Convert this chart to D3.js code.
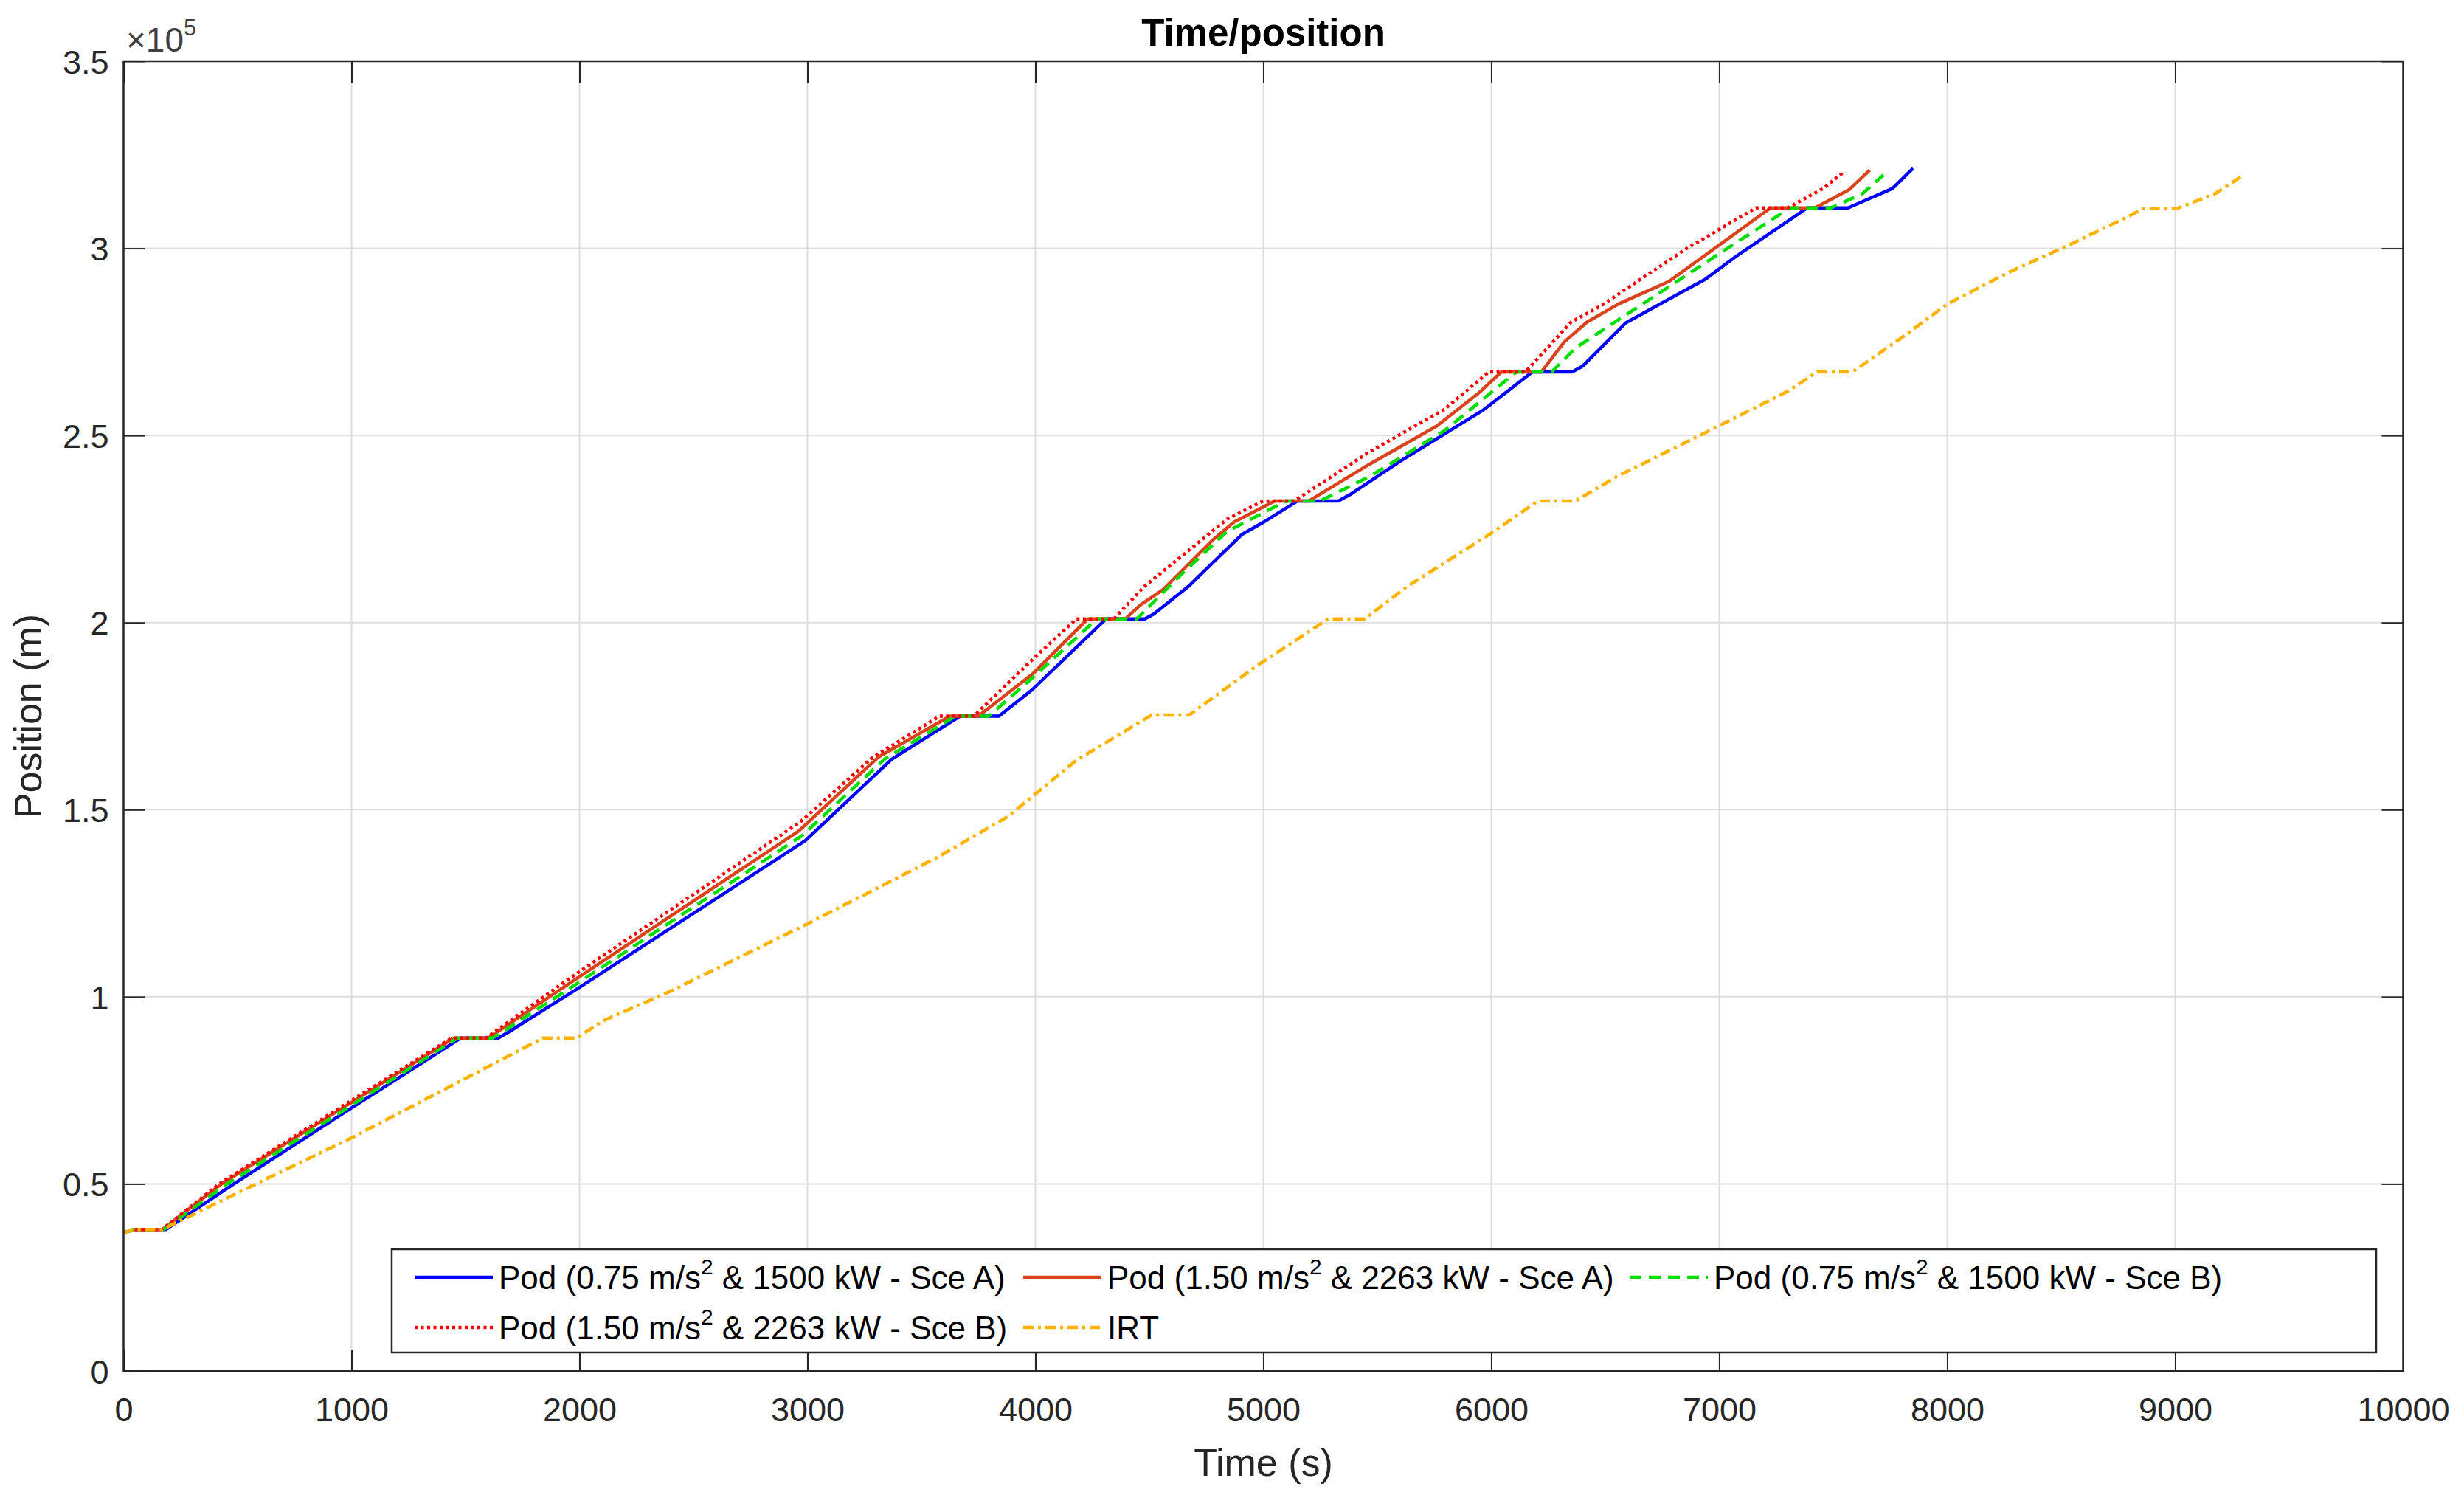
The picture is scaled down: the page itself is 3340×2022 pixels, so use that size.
<!DOCTYPE html>
<html>
<head>
<meta charset="utf-8">
<script src="https://cdn.jsdelivr.net/npm/d3@7"></script>
<style>
  html, body { margin: 0; padding: 0; background: #fff; }
  svg { display: block; font-family: "Liberation Sans", Arial, Helvetica, sans-serif; }
</style>
</head>
<body>
<div id="chart"></div>
<script>
// time (s) / position (m) pairs
const podA075 = [
  [0, 36800], [40, 37800], [185, 37800], [484, 50000], [1000, 70300], [1480, 89000],
  [1645, 89000], [1700, 91000], [2000, 102500], [2990, 141700], [3370, 163500],
  [3670, 175000], [3840, 175000], [3985, 182000], [4310, 201000], [4480, 201000],
  [4520, 202300], [4670, 209600], [4905, 223500], [5000, 226800], [5150, 232500],
  [5330, 232500], [5380, 234200], [5600, 243100], [5960, 256600], [6090, 262700],
  [6180, 267000], [6355, 267000], [6400, 268500], [6590, 280100], [6940, 291800],
  [7070, 297700], [7385, 310800], [7565, 310800], [7760, 316000], [7850, 321400],
];

const podA150 = [
  [0, 36800], [40, 37800], [170, 37800], [430, 50000], [1000, 71800], [1450, 89000],
  [1600, 89000], [1951, 103400], [2960, 144200], [3310, 164000], [3625, 175000],
  [3750, 175000], [3990, 186400], [4230, 201000], [4395, 201000], [4460, 204700],
  [4560, 208800], [4775, 221900], [4870, 226800], [5050, 232500], [5200, 232500],
  [5465, 242300], [5760, 252500], [5940, 261100], [6045, 267000], [6220, 267000],
  [6320, 275000], [6420, 280300], [6560, 285200], [6780, 291200], [7225, 310800],
  [7420, 310800], [7570, 315700], [7660, 320900],
];

const podB075 = [
  [0, 36800], [40, 37800], [175, 37800], [455, 50000], [1000, 71000], [1465, 89000],
  [1620, 89000], [1951, 102000], [2975, 143000], [3340, 163600], [3650, 175000],
  [3795, 175000], [3985, 185100], [4270, 201000], [4445, 201000], [4640, 212900],
  [4840, 224300], [5100, 232500], [5250, 232500], [5465, 239000], [5795, 251300],
  [6110, 267000], [6265, 267000], [6370, 273400], [6560, 281000], [7010, 299000],
  [7310, 310800], [7490, 310800], [7630, 314700], [7720, 319600],
];

const podB150 = [
  [0, 36800], [40, 37800], [168, 37800], [420, 50000], [1000, 72300], [1440, 89000],
  [1590, 89000], [1951, 104700], [2970, 146800], [3285, 163900], [3580, 175000],
  [3730, 175000], [3985, 190000], [4180, 201000], [4345, 201000], [4477, 209600],
  [4675, 219400], [4840, 227600], [5000, 232500], [5135, 232500], [5465, 245600],
  [5795, 257000], [5990, 267000], [6150, 267000], [6350, 280300], [6480, 284600],
  [6850, 299700], [7160, 310800], [7300, 310800], [7456, 316000], [7550, 320600],
];

const irt = [
  [0, 36800], [40, 37800], [170, 37800], [581, 50000], [1000, 62300], [1840, 89000],
  [1990, 89000], [2100, 93500], [2400, 101500], [2990, 119200], [3520, 135700],
  [3580, 137600], [3880, 148200], [4180, 163200], [4510, 175300], [4675, 175300],
  [4970, 188400], [5285, 201000], [5445, 201000], [5630, 209600], [5990, 223500],
  [6205, 232500], [6370, 232500], [6550, 239000], [7000, 252600], [7300, 261800],
  [7430, 267000], [7585, 267000], [7800, 276100], [8000, 285100], [8270, 293600],
  [8520, 300500], [8780, 308100], [8860, 310600], [9005, 310600], [9175, 314600],
  [9300, 319600],
];

const xTicks = [0, 1000, 2000, 3000, 4000, 5000, 6000, 7000, 8000, 9000, 10000];
const yTicks = [0, 50000, 100000, 150000, 200000, 250000, 300000, 350000];
const yTickLabels = ["0", "0.5", "1", "1.5", "2", "2.5", "3", "3.5"];

const series = [
  { data: podA075, label: ["Pod (0.75 m/s", "2", " & 1500 kW - Sce A)"], color: "#0000ff", dash: null },
  { data: podA150, label: ["Pod (1.50 m/s", "2", " & 2263 kW - Sce A)"], color: "#d9441c", dash: null },
  { data: podB075, label: ["Pod (0.75 m/s", "2", " & 1500 kW - Sce B)"], color: "#00dd00", dash: "16,10" },
  { data: podB150, label: ["Pod (1.50 m/s", "2", " & 2263 kW - Sce B)"], color: "#ff0000", dash: "4,4.5" },
  { data: irt, label: ["IRT"], color: "#ffb300", dash: "14,6,4,6" },
];

const width = 3340;
const height = 2022;
const plot = { left: 167.5, right: 3257.5, top: 83, bottom: 1858 };
const axisColor = "#262626";
const tickLen = 29;

const x = d3.scaleLinear().domain([0, 10000]).range([plot.left, plot.right]);
const y = d3.scaleLinear().domain([0, 350000]).range([plot.bottom, plot.top]);

const svg = d3.select("#chart")
  .append("svg")
  .attr("width", width)
  .attr("height", height)
  .attr("viewBox", [0, 0, width, height]);

svg.append("rect").attr("width", width).attr("height", height).attr("fill", "#fff");

// grid
svg.append("g")
  .selectAll("line")
  .data(xTicks.slice(1, -1))
  .join("line")
  .attr("x1", (d) => x(d)).attr("x2", (d) => x(d))
  .attr("y1", plot.top).attr("y2", plot.bottom)
  .attr("stroke", "#dedede").attr("stroke-width", 2);

svg.append("g")
  .selectAll("line")
  .data(yTicks.slice(1, -1))
  .join("line")
  .attr("y1", (d) => y(d)).attr("y2", (d) => y(d))
  .attr("x1", plot.left).attr("x2", plot.right)
  .attr("stroke", "#dedede").attr("stroke-width", 2);

// curves
const line = d3.line()
  .x((d) => x(d[0]))
  .y((d) => y(d[1]));

svg.append("g")
  .selectAll("path")
  .data(series)
  .join("path")
  .attr("fill", "none")
  .attr("stroke", (d) => d.color)
  .attr("stroke-width", 4.5)
  .attr("stroke-dasharray", (d) => d.dash)
  .attr("stroke-linejoin", "round")
  .attr("d", (d) => line(d.data));

// axes with inward ticks on all four sides
const tickFont = 45;

const xBottom = svg.append("g")
  .attr("transform", `translate(0,${plot.bottom})`)
  .call(d3.axisBottom(x).tickValues(xTicks).tickSizeInner(-tickLen).tickSizeOuter(0).tickPadding(0).tickFormat(d3.format("d")));
xBottom.select(".domain").remove();
xBottom.selectAll(".tick line").attr("stroke", axisColor).attr("stroke-width", 2);
xBottom.selectAll(".tick text")
  .attr("y", 68).attr("dy", null)
  .attr("fill", axisColor).style("font-size", `${tickFont}px`);

const xTop = svg.append("g")
  .attr("transform", `translate(0,${plot.top})`)
  .call(d3.axisTop(x).tickValues(xTicks).tickSizeInner(-tickLen).tickSizeOuter(0).tickFormat(""));
xTop.select(".domain").remove();
xTop.selectAll(".tick line").attr("stroke", axisColor).attr("stroke-width", 2);

const yLeft = svg.append("g")
  .attr("transform", `translate(${plot.left},0)`)
  .call(d3.axisLeft(y).tickValues(yTicks).tickSizeInner(-tickLen).tickSizeOuter(0)
    .tickFormat((d, i) => yTickLabels[i]));
yLeft.select(".domain").remove();
yLeft.selectAll(".tick line").attr("stroke", axisColor).attr("stroke-width", 2);
yLeft.selectAll(".tick text")
  .attr("x", -20).attr("dy", "0.36em")
  .attr("fill", axisColor).style("font-size", `${tickFont}px`);

const yRight = svg.append("g")
  .attr("transform", `translate(${plot.right},0)`)
  .call(d3.axisRight(y).tickValues(yTicks).tickSizeInner(-tickLen).tickSizeOuter(0).tickFormat(""));
yRight.select(".domain").remove();
yRight.selectAll(".tick line").attr("stroke", axisColor).attr("stroke-width", 2);

svg.selectAll("g[font-family]").attr("font-family", null);

// frame
svg.append("rect")
  .attr("x", plot.left).attr("y", plot.top)
  .attr("width", plot.right - plot.left).attr("height", plot.bottom - plot.top)
  .attr("fill", "none").attr("stroke", axisColor).attr("stroke-width", 2.5);

// exponent label
const expo = svg.append("text")
  .attr("x", 171).attr("y", 70)
  .attr("fill", "#404040")
  .style("font-size", "46px");
expo.append("tspan").text("\u00d710");
expo.append("tspan").attr("dy", -22).style("font-size", "31px").text("5");

// title and axis labels
svg.append("text")
  .attr("x", (plot.left + plot.right) / 2).attr("y", 62)
  .attr("text-anchor", "middle")
  .attr("fill", "#000")
  .style("font-size", "51px").style("font-weight", "bold")
  .text("Time/position");

svg.append("text")
  .attr("x", (plot.left + plot.right) / 2).attr("y", 2000)
  .attr("text-anchor", "middle")
  .attr("fill", axisColor)
  .style("font-size", "52px")
  .text("Time (s)");

svg.append("text")
  .attr("transform", `translate(56,${(plot.top + plot.bottom) / 2}) rotate(-90)`)
  .attr("text-anchor", "middle")
  .attr("fill", axisColor)
  .style("font-size", "52px")
  .text("Position (m)");

// legend
const legend = { left: 531, top: 1693, right: 3221, bottom: 1833 };
const legendCols = [562, 1387, 2209];
const legendRows = [1731, 1799];
const swatchLen = 106;

const lg = svg.append("g");
lg.append("rect")
  .attr("x", legend.left).attr("y", legend.top)
  .attr("width", legend.right - legend.left).attr("height", legend.bottom - legend.top)
  .attr("fill", "#fff").attr("stroke", axisColor).attr("stroke-width", 2.5);

const items = lg.selectAll("g.item")
  .data(series)
  .join("g")
  .attr("class", "item")
  .attr("transform", (d, i) => `translate(${legendCols[i % 3]},${legendRows[Math.floor(i / 3)]})`);

items.append("line")
  .attr("x1", 0).attr("x2", swatchLen)
  .attr("stroke", (d) => d.color)
  .attr("stroke-width", 4.5)
  .attr("stroke-dasharray", (d) => d.dash);

const labels = items.append("text")
  .attr("x", swatchLen + 8)
  .attr("dy", "0.36em")
  .attr("fill", "#000")
  .style("font-size", "44px");

labels.each(function (d) {
  const t = d3.select(this);
  t.append("tspan").text(d.label[0]);
  if (d.label.length > 1) {
    t.append("tspan").attr("dy", -20).style("font-size", "30px").text(d.label[1]);
    t.append("tspan").attr("dy", 20).text(d.label[2]);
  }
});
</script>
</body>
</html>
